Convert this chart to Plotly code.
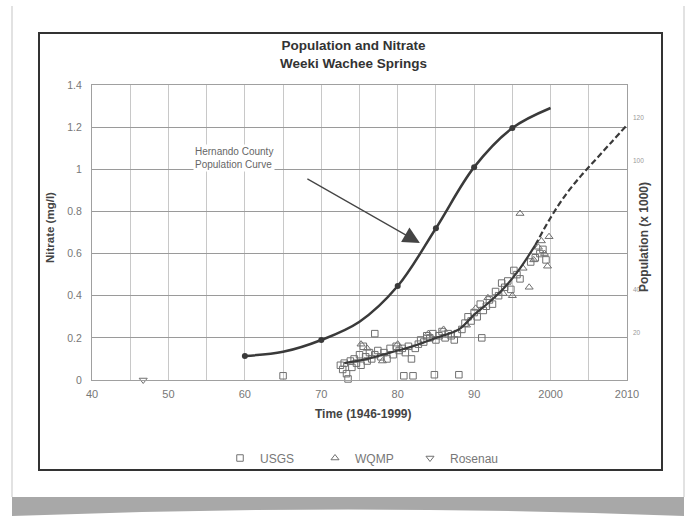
import plotly.graph_objects as go

# ---------------- data ----------------
# Hernando County population (x 1000), read against the right-hand axis
pop_years = [1960, 1965, 1970, 1975, 1980, 1985, 1990, 1995, 2000]
pop_thousands = [9.3, 11.2, 16.7, 25.2, 41.8, 68.7, 97.1, 115.3, 124.6]
census_years = [1960, 1970, 1980, 1985, 1990, 1995]
census_thousands = [9.3, 16.7, 41.8, 68.7, 97.1, 115.3]

trend_years = [1973, 1976, 1979, 1982, 1985, 1988, 1990, 1992, 1994, 1996, 1998]
trend_vals = [0.08, 0.10, 0.13, 0.16, 0.20, 0.24, 0.31, 0.37, 0.44, 0.53, 0.64]
proj_years = [1998, 2000, 2002, 2004, 2006, 2008, 2010]
proj_vals = [0.64, 0.77, 0.88, 0.97, 1.05, 1.13, 1.21]

usgs_years = [1965.0, 1972.5, 1972.8, 1973.0, 1973.3, 1973.5, 1973.8, 1974.0, 1974.3, 1974.6,
              1975.0, 1975.2, 1975.5, 1975.8, 1976.0, 1976.3, 1976.6, 1977.0, 1977.0, 1977.4,
              1977.8, 1978.2, 1978.6, 1979.0, 1979.4, 1979.8, 1980.2, 1980.6, 1980.8, 1981.0,
              1981.4, 1981.8, 1982.0, 1982.3, 1982.7, 1983.0, 1983.4, 1983.8, 1984.2, 1984.6,
              1984.8, 1985.0, 1985.4, 1985.8, 1986.2, 1986.6, 1987.0, 1987.4, 1987.8, 1988.0,
              1988.4, 1988.8, 1989.2, 1989.6, 1990.0, 1990.4, 1990.8, 1991.0, 1991.2, 1991.6,
              1992.0, 1992.4, 1992.8, 1993.2, 1993.6, 1994.0, 1994.4, 1994.8, 1995.2, 1995.6,
              1996.0, 1997.4, 1998.0, 1998.6, 1999.0, 1999.4]
usgs_vals = [0.02, 0.07, 0.05, 0.08, 0.03, 0.005, 0.09, 0.06, 0.10, 0.08,
             0.12, 0.07, 0.16, 0.11, 0.09, 0.13, 0.10, 0.22, 0.12, 0.14,
             0.11, 0.13, 0.10, 0.15, 0.12, 0.16, 0.14, 0.15, 0.02, 0.13,
             0.16, 0.10, 0.02, 0.15, 0.17, 0.19, 0.18, 0.21, 0.20, 0.22,
             0.025, 0.19, 0.21, 0.23, 0.20, 0.22, 0.21, 0.19, 0.22, 0.025,
             0.24, 0.27, 0.30, 0.28, 0.32, 0.30, 0.36, 0.20, 0.33, 0.35,
             0.38, 0.36, 0.42, 0.40, 0.46, 0.44, 0.47, 0.43, 0.52, 0.50,
             0.48, 0.56, 0.58, 0.60, 0.62, 0.57]

wqmp_years = [1975.2, 1976.0, 1978.0, 1980.0, 1984.0, 1986.0, 1989.0, 1990.2, 1991.8, 1993.8,
              1995.0, 1996.0, 1996.4, 1997.2, 1997.8, 1998.4, 1998.8, 1999.2, 1999.6, 1999.8]
wqmp_vals = [0.17, 0.15, 0.09, 0.17, 0.22, 0.24, 0.26, 0.34, 0.39, 0.41,
             0.40, 0.79, 0.53, 0.44, 0.57, 0.63, 0.66, 0.60, 0.54, 0.68]

rosenau_years = [1946.7]
rosenau_vals = [0.0]

x_tickvals = [1940, 1950, 1960, 1970, 1980, 1990, 2000, 2010]
x_ticktext = ["40", "50", "60", "70", "80", "90", "2000", "2010"]
y_tickvals = [0, 0.2, 0.4, 0.6, 0.8, 1.0, 1.2, 1.4]
y_ticktext = ["0", "0.2", "0.4", "0.6", "0.8", "1", "1.2", "1.4"]
y2_tickvals = [20, 40, 100, 120]
y2_range = [-1.9, 135.3]

# ---------------- geometry helpers (pixel -> paper) ----------------
W, H = 696, 516
L, R, T, B = 92, 69, 85, 136
PW, PH = W - L - R, H - T - B


def px(x):
    return (x - L) / PW


def py(y):
    return (H - B - y) / PH


FONT = "Liberation Sans, Arial, sans-serif"
DARK = "#3a3a3a"
MARK = "#707070"

fig = go.Figure()

fig.add_trace(go.Scatter(x=usgs_years, y=usgs_vals, mode="markers", name="USGS", cliponaxis=False,
                         marker=dict(symbol="square-open", size=6.5, color=MARK, line=dict(width=1))))
fig.add_trace(go.Scatter(x=wqmp_years, y=wqmp_vals, mode="markers", name="WQMP", cliponaxis=False,
                         marker=dict(symbol="triangle-up-open", size=7, color=MARK, line=dict(width=1))))
fig.add_trace(go.Scatter(x=rosenau_years, y=rosenau_vals, mode="markers", name="Rosenau", cliponaxis=False,
                         marker=dict(symbol="triangle-down-open", size=7, color=MARK, line=dict(width=1))))

fig.add_trace(go.Scatter(x=trend_years, y=trend_vals, mode="lines", showlegend=False,
                         line=dict(color=DARK, width=2.2, shape="spline")))
fig.add_trace(go.Scatter(x=proj_years, y=proj_vals, mode="lines", showlegend=False,
                         line=dict(color=DARK, width=2.2, shape="spline", dash="6px,3px")))

fig.add_trace(go.Scatter(x=pop_years, y=pop_thousands, mode="lines", showlegend=False, yaxis="y2",
                         line=dict(color=DARK, width=2.5, shape="spline")))
fig.add_trace(go.Scatter(x=census_years, y=census_thousands, mode="markers", showlegend=False, yaxis="y2",
                         marker=dict(symbol="circle", size=6, color=DARK)))

shapes = [
    # card side edges
    dict(type="line", xref="paper", yref="paper", x0=px(12), x1=px(12), y0=py(6), y1=py(497),
         line=dict(color="#d8d8d8", width=1.5)),
    dict(type="line", xref="paper", yref="paper", x0=px(684), x1=px(684), y0=py(6), y1=py(497),
         line=dict(color="#d8d8d8", width=1.5)),
    # bottom shadow
    dict(type="path", xref="paper", yref="paper",
         path=(f"M {px(12)},{py(497)} L {px(684)},{py(497)} L {px(684)},{py(516)} "
               f"Q {px(348)},{py(503)} {px(12)},{py(516)} Z"),
         fillcolor="#a8a8a8", line=dict(width=0), layer="below"),
    # chart frame
    dict(type="rect", xref="paper", yref="paper", x0=px(39), x1=px(662), y0=py(470), y1=py(33),
         line=dict(color="#333333", width=2)),
]

annotations = [
    dict(text="<b>Population and Nitrate</b><br><b>Weeki Wachee Springs</b>", xref="paper", yref="paper",
         x=px(353), y=py(54), showarrow=False, xanchor="center", yanchor="middle",
         font=dict(family=FONT, size=13.5, color="#333333")),
    dict(text="<b>Nitrate (mg/l)</b>", xref="paper", yref="paper", x=px(50), y=py(228),
         xanchor="center", yanchor="middle",
         showarrow=False, textangle=-90, font=dict(family=FONT, size=11.5, color="#444444")),
    dict(text="<b>Population (x 1000)</b>", xref="paper", yref="paper", x=px(644), y=py(237),
         xanchor="center", yanchor="middle",
         showarrow=False, textangle=-90, font=dict(family=FONT, size=12, color="#444444")),
    dict(text="<b>Time (1946-1999)</b>", xref="paper", yref="paper", x=px(363), y=py(414),
         xanchor="center", yanchor="middle",
         showarrow=False, font=dict(family=FONT, size=12, color="#444444")),
    dict(text="Hernando County<br>Population Curve", xref="paper", yref="paper", x=px(193), y=py(158),
         xanchor="left", yanchor="middle", align="left", showarrow=False, bgcolor="white",
         font=dict(family=FONT, size=10, color="#666666")),
    dict(text="", x=1982.9, y=0.65, xref="x", yref="y", showarrow=True, ax=-114, ay=-65,
         arrowhead=2, arrowsize=2.8, arrowwidth=1.2, arrowcolor="#444444"),
]

fig.update_layout(
    width=W, height=H, autosize=False,
    margin=dict(l=L, r=R, t=T, b=B),
    paper_bgcolor="white", plot_bgcolor="white",
    font=dict(family=FONT, color="#777777"),
    xaxis=dict(range=[1940, 2010], tickvals=x_tickvals, ticktext=x_ticktext,
               tickfont=dict(size=11, color="#777777"),
               showgrid=True, gridcolor="#c8c8c8", gridwidth=1,
               minor=dict(dtick=5, tick0=1940, showgrid=True, gridcolor="#c8c8c8", gridwidth=1),
               showline=True, linecolor="#a0a0a0", linewidth=1, mirror=True,
               zeroline=False, ticks="", ticklabelstandoff=4),
    yaxis=dict(range=[0, 1.4], tickvals=y_tickvals, ticktext=y_ticktext,
               tickfont=dict(size=10.5, color="#777777"),
               showgrid=True, gridcolor="#9a9a9a", gridwidth=1.3,
               showline=True, linecolor="#a0a0a0", linewidth=1, mirror=True,
               ticks="", zeroline=False, ticklabelstandoff=7),
    yaxis2=dict(range=y2_range, overlaying="y", side="right", tickvals=y2_tickvals,
                tickfont=dict(size=6.5, color="#999999"), showgrid=False, zeroline=False,
                showline=False, ticks="", ticklabelstandoff=5),
    legend=dict(orientation="h", x=px(220), xanchor="left", y=py(458), yanchor="middle",
                font=dict(family=FONT, size=12, color="#777777"),
                entrywidth=50, entrywidthmode="pixels", bgcolor="rgba(0,0,0,0)"),
    shapes=shapes,
    annotations=annotations,
)

fig.write_html("out.html")
